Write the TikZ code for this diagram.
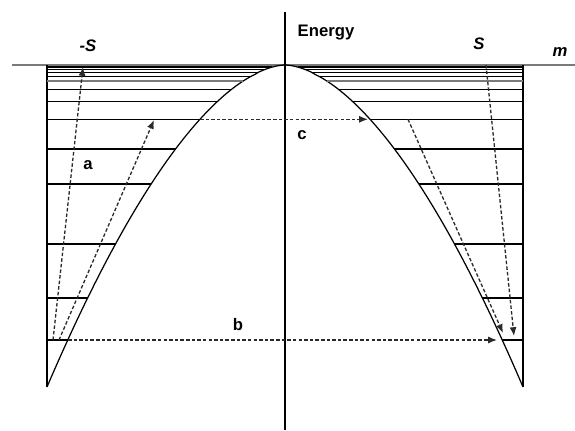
\documentclass[tikz,border=0pt]{standalone}
\usepackage{fontspec}
\setmainfont{Liberation Sans}
\usetikzlibrary{arrows.meta}
\definecolor{well-gray}{HTML}{7A7A7A}
\definecolor{jump-gray}{HTML}{2A2A2A}

\begin{document}
\begin{tikzpicture}[
			x=0.02cm, y=-0.02cm,
			level/.style={draw=black, line width=1pt},
			thinlevel/.style={draw=black, line width=0.55pt},
			graylevel/.style={draw=well-gray, line width=1.2pt},
			jump/.style={
				draw=jump-gray, line width=0.75pt,
				dash pattern=on 2pt off 1.2pt,
				-{Latex[length=5pt,width=4pt]}
			},
			lbl/.style={font=\fontsize{9.5}{11}\selectfont\bfseries}
			]
			\useasboundingbox (0,0) rectangle (575,430);
			% axes and walls
			\draw[graylevel, line width=1.4pt] (12,65) -- (575,65);
			\draw[line width=1.1pt] (285,12) -- (285,430);
			\draw[line width=1.7pt] (47,65) -- (47,387);
			\draw[line width=0.85pt] (523,65) -- (523,387);
			% energy curve
			\draw[line width=0.7pt] plot[domain=47:523, samples=120] (\x, {65+322*(abs(\x-285)/238)^1.73});
			% levels
			\foreach \ly/\sty in {67/level, 69.5/thinlevel, 72/thinlevel, 76/thinlevel, 81/graylevel,
				89.3/thinlevel, 101.3/thinlevel, 119.3/thinlevel, 149/level, 184.3/level,
				243.7/level, 297.7/level, 340/level} {
				\pgfmathsetmacro\dx{238*((\ly-65)/322)^(1/1.73)}
				\draw[\sty] (47,\ly) -- ({285-\dx},\ly);
				\draw[\sty] ({285+\dx},\ly) -- (523,\ly);
			}
			% transitions
			\coordinate (a1s) at (53,340);
			\coordinate (a1e) at (83,67);
			\coordinate (a2s) at (59,340);
			\coordinate (a2e) at (154,120);
			\coordinate (bs) at (68,340);
			\coordinate (be) at (497,340);
			\coordinate (cs) at (200,119.3);
			\coordinate (ce) at (368,119.3);
			\coordinate (s1s) at (486,65);
			\coordinate (s1e) at (514,336);
			\coordinate (s2s) at (408,119.3);
			\coordinate (s2e) at (503,333);
			\draw[jump] (a1s) -- (a1e);
			\draw[jump] (a2s) -- (a2e);
			\draw[jump] (bs) -- (be);
			\draw[jump] (cs) -- (ce);
			\draw[jump] (s1s) -- (s1e);
			\draw[jump] (s2s) -- (s2e);
			% labels
			\node[lbl] (negS) at (88,46) {\textit{-S}};
			\node[lbl] (posS) at (479,44) {\textit{S}};
			\node[lbl] (mlab) at (560,52) {\textit{m}};
			\node[lbl] (energy) at (326,33) {Energy};
			\node[lbl] (la) at (88,165) {a};
			\node[lbl] (lb) at (238,325) {b};
			\node[lbl] (lc) at (302,135) {c};
		\end{tikzpicture}
\end{document}
